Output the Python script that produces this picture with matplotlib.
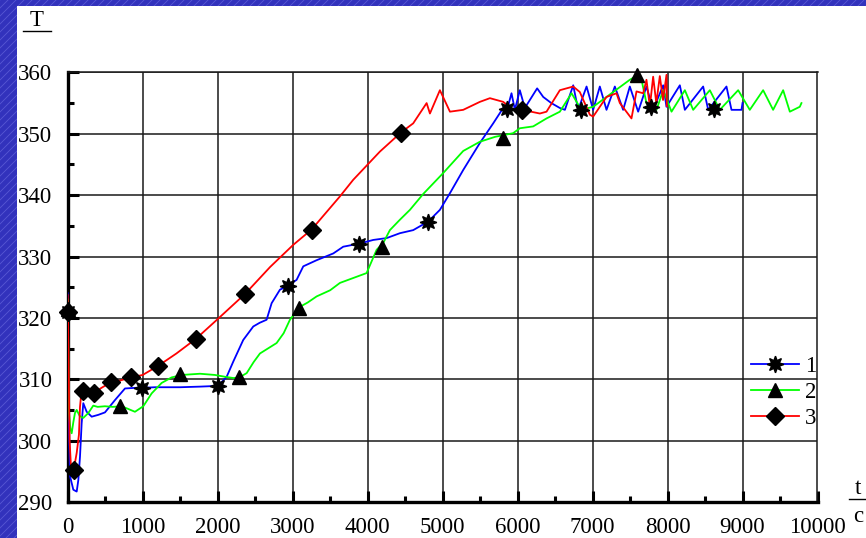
"""
Temperature curves T(t) for three runs, redrawn from a slide figure.
"""

import matplotlib.pyplot as plt
from matplotlib.lines import Line2D
from matplotlib.patches import Rectangle

# ---- data ----
t1 = [0, 5, 20, 31, 75, 120, 142, 164, 186, 208, 253, 320, 408, 497, 630, 764, 900, 977,
      1164, 1500, 1764, 1964, 2050, 2120, 2209, 2341, 2475, 2560, 2653, 2720, 2831, 2933,
      3053, 3142, 3320, 3542, 3675, 3888, 4075, 4253, 4431, 4608, 4808, 4964, 5097, 5275,
      5497, 5675, 5808, 5862, 5919, 5964, 6030, 6097, 6261, 6342, 6450, 6564, 6631, 6742,
      6808, 6920, 7008, 7097, 7186, 7297, 7408, 7497, 7608, 7719, 7808, 7942, 7986, 8164,
      8231, 8475, 8542, 8786, 8853, 8986, 9000]
T1 = [324, 310, 300, 294.2, 292, 291.7, 293.6, 297.4, 302.8, 306.1, 304.7, 303.9, 304.2,
      304.6, 306.6, 308.5, 308.6, 308.6, 308.7, 308.7, 308.8, 308.9, 309.5, 310.4, 312.9,
      316.4, 318.6, 319.2, 319.7, 322.4, 324.6, 325.2, 326.2, 328.4, 329.4, 330.5, 331.6,
      332.1, 332.7, 333.0, 333.8, 334.3, 335.7, 337.6, 340.3, 344.1, 348.5, 351.7, 354.2,
      354.0, 356.6, 353.9, 357.1, 354.2, 357.4, 356.0, 355.0, 354.2, 353.9, 357.9, 353.9,
      357.7, 353.9, 357.7, 353.9, 357.7, 353.9, 357.7, 353.6, 357.7, 353.9, 357.9, 354.4,
      357.9, 353.9, 357.7, 353.9, 357.7, 353.9, 353.9, 355.0]

t2 = [0, 17, 35, 53, 75, 97, 120, 160, 208, 275, 341, 400, 497, 600, 720, 800, 897, 1008,
      1120, 1253, 1386, 1520, 1764, 1964, 2100, 2209, 2288, 2387, 2480, 2564, 2786, 2880,
      2964, 3097, 3200, 3320, 3500, 3631, 3853, 3986, 4120, 4208, 4297, 4431, 4564, 4742,
      5008, 5275, 5497, 5700, 5941, 6030, 6208, 6386, 6564, 6720, 6850, 7008, 7186, 7497,
      7597, 7653, 7719, 7853, 7942, 8053, 8231, 8342, 8564, 8697, 8942, 9097, 9275, 9408,
      9542, 9631, 9764, 9786]
T2 = [323, 304.5, 302, 301.2, 303, 304.5, 305.0, 304.0, 303.7, 304.5, 305.7, 305.5, 305.6,
      305.5, 305.6, 305.2, 304.7, 305.6, 307.7, 309.4, 310.3, 310.7, 310.9, 310.7, 310.4,
      310.2, 310.3, 311.0, 312.8, 314.2, 315.9, 317.5, 319.7, 321.8, 322.5, 323.5, 324.5,
      325.7, 326.7, 327.3, 331.1, 332.2, 334.3, 336.0, 337.6, 340.2, 343.6, 347.2, 348.7,
      349.5, 350.1, 350.9, 351.2, 352.5, 353.6, 356.6, 353.9, 354.4, 356.0, 358.8, 359.5,
      358.8, 355.0, 353.9, 357.1, 353.6, 357.1, 353.9, 357.1, 353.9, 357.1, 353.9, 357.1,
      353.9, 357.1, 353.6, 354.4, 355.0]

t3 = [0, 10, 25, 44, 80, 120, 150, 164, 186, 208, 300, 355, 450, 577, 700, 845, 1000, 1208,
      1450, 1711, 2000, 2365, 2700, 3008, 3253, 3631, 3808, 4164, 4444, 4608, 4787, 4831,
      4964, 5098, 5275, 5497, 5631, 5808, 5941, 6100, 6297, 6386, 6564, 6742, 6830, 6964,
      7008, 7186, 7319, 7364, 7519, 7586, 7675, 7719, 7764, 7808, 7850, 7897, 7940, 7986,
      7990]
T3 = [323.7, 315, 300, 295.7, 295.2, 298, 301, 305.5, 308.3, 308.1, 308.0, 307.8, 308.6,
      309.5, 309.8, 310.3, 310.7, 312.2, 314.2, 316.6, 319.8, 323.9, 328.3, 331.9, 334.4,
      339.8, 342.5, 347.1, 350.2, 351.7, 355.0, 353.3, 357.1, 353.6, 353.9, 355.2, 355.8,
      355.2, 353.9, 353.8, 353.3, 353.6, 357.1, 357.7, 356.8, 353.1, 352.8, 356.0, 356.6,
      355.0, 352.5, 356.9, 356.6, 358.8, 354.4, 359.3, 355.0, 359.4, 355.5, 359.6, 354.5]

# marker positions
m1_t = [0, 990, 2000, 2933, 3888, 4808, 5858, 6844, 7777, 8622]
m1_T = [321, 308.6, 308.9, 325.2, 332.1, 335.7, 354.0, 353.9, 354.4, 354.0]
m2_t = [0, 697, 1497, 2288, 3088, 4187, 5800, 7597]
m2_T = [321.5, 305.6, 310.9, 310.3, 321.6, 331.5, 349.3, 359.5]
m3_t = [0, 80, 208, 355, 577, 845, 1208, 1711, 2365, 3253, 4444, 6053]
m3_T = [321, 295.2, 308.1, 307.8, 309.5, 310.3, 312.2, 316.6, 323.9, 334.4, 350.2, 353.8]

labels = ["1", "2", "3"]

plt.rcParams['font.family'] = ['Liberation Serif', 'DejaVu Serif']
plt.rcParams['font.size'] = 16.5

W, H = 866, 538
fig = plt.figure(figsize=(W / 100, H / 100), dpi=100, facecolor='#3232bc')

# striped blue border (only the left and top edges stay visible)
for c in range(-H, W, 8):
    fig.add_artist(Line2D([c / W, (c + H) / W], [0, 1], color='#7676e6', lw=0.6,
                          alpha=0.55, zorder=-3))
fig.add_artist(Rectangle((17 / W, 0), 1, 1 - 6 / H, facecolor='white', edgecolor='none',
                         zorder=-2))

ax = fig.add_axes([67.7 / W, 1 - 502 / H, (817.5 - 67.7) / W, (502 - 72.4) / H])
ax.set_facecolor('white')

blue, green, red = '#0000ff', '#00ff00', '#ff0000'
ax.plot(t1, T1, color=blue, lw=1.3, zorder=3)
ax.plot(t2, T2, color=green, lw=1.3, zorder=3)
ax.plot(t3, T3, color=red, lw=1.3, zorder=3)

star = (8, 1, 0)
ax.plot(m1_t, m1_T, ls='none', marker=star, ms=12, color='k', zorder=4, clip_on=False)
ax.plot(m2_t, m2_T, ls='none', marker='^', ms=10, color='k', zorder=4, clip_on=False)
ax.plot(m3_t, m3_T, ls='none', marker='D', ms=9.5, color='k', zorder=4, clip_on=False)

ax.set_xlim(0, 10000)
ax.set_ylim(290, 360)
ax.set_xticks(range(0, 10001, 1000))
ax.set_xticks(range(500, 10000, 1000), minor=True)
ax.set_yticks(range(290, 361, 10))
ax.set_yticks(range(295, 360, 10), minor=True)
ax.grid(True, which='major', color='#1a1a1a', lw=1.1)
ax.set_axisbelow(True)

ax.tick_params(which='major', direction='in', length=8, width=2.2, pad=11,
               right=False, top=False)
ax.tick_params(which='minor', direction='in', length=4.5, width=2.2)
for s in ['left', 'bottom']:
    ax.spines[s].set_linewidth(2.4)
for s in ['top', 'right']:
    ax.spines[s].set_linewidth(1.1)
    ax.spines[s].set_color('#1a1a1a')

handles = [
    Line2D([], [], color=blue, lw=1.3, marker=star, ms=12, mfc='k', mec='k'),
    Line2D([], [], color=green, lw=1.3, marker='^', ms=10, mfc='k', mec='k'),
    Line2D([], [], color=red, lw=1.3, marker='D', ms=9.5, mfc='k', mec='k'),
]
fig.legend(handles, labels, loc='upper left', bbox_to_anchor=(751 / W, 1 - 356 / H),
           frameon=False, borderpad=0, borderaxespad=0, handlelength=2.1,
           handletextpad=0.25, labelspacing=0.22, fontsize=16.5)

# axis captions: "T" over a bar, "t" over "c"
fig.text(37 / W, 1 - 21 / H, 'T', ha='center', va='center')
fig.add_artist(Line2D([23 / W, 51 / W], [1 - 30.7 / H] * 2, color='k', lw=1))
fig.text(858 / W, 1 - 489 / H, 't', ha='center', va='center')
fig.add_artist(Line2D([849 / W, 1], [1 - 499 / H] * 2, color='k', lw=1))
fig.text(858 / W, 1 - 517 / H, 'c', ha='center', va='center')

fig.savefig('out.png', dpi=100, facecolor=fig.get_facecolor())
